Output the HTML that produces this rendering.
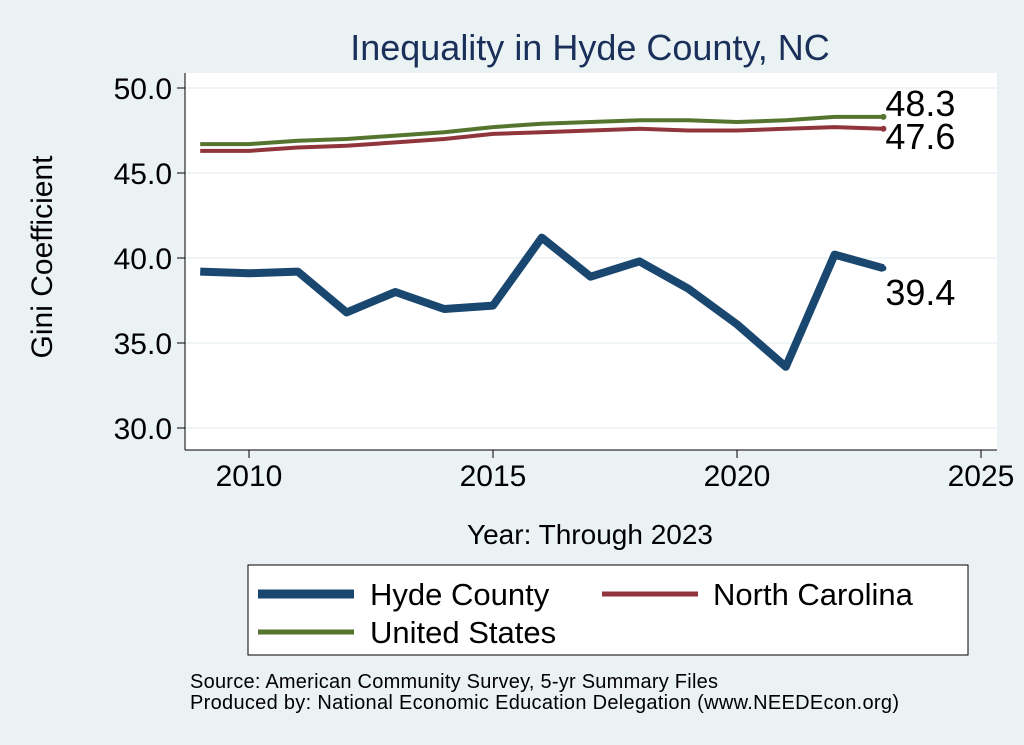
<!DOCTYPE html>
<html><head><meta charset="utf-8"><style>
body{margin:0;background:#eaf2f3;}
svg{display:block;font-family:"Liberation Sans",sans-serif;}
</style></head><body>
<svg width="1024" height="745">
<rect x="0" y="0" width="1024" height="745" fill="#eaf2f3"/>
<text x="590" y="60" font-size="36" fill="#1a2f5a" text-anchor="middle">Inequality in Hyde County, NC</text>
<rect x="185" y="73" width="812" height="377" fill="#ffffff"/>
<g id="grid"></g>
<g id="axes"></g>
<g id="series"></g>
<text x="52" y="257" font-size="30" fill="#000" text-anchor="middle" transform="rotate(-90 52 257)">Gini Coefficient</text>
<text x="590" y="544" font-size="28" fill="#000" text-anchor="middle">Year: Through 2023</text>
<g>
<rect x="248" y="565" width="720" height="90" fill="#fff" stroke="#000" stroke-width="1"/>
<line x1="258" y1="594" x2="354" y2="594" stroke="#1a476f" stroke-width="9"/>
<text x="370" y="605" font-size="31">Hyde County</text>
<line x1="602" y1="594" x2="698" y2="594" stroke="#90353b" stroke-width="5"/>
<text x="713" y="605" font-size="31">North Carolina</text>
<line x1="258" y1="632" x2="354" y2="632" stroke="#55752f" stroke-width="5"/>
<text x="370" y="643" font-size="31">United States</text>
</g>
<text x="190" y="688" font-size="20" textLength="528">Source: American Community Survey, 5-yr Summary Files</text>
<text x="190" y="709" font-size="20" textLength="709">Produced by: National Economic Education Delegation (www.NEEDEcon.org)</text>
</svg>
<script>
const years=[2009,2010,2011,2012,2013,2014,2015,2016,2017,2018,2019,2020,2021,2022,2023];
const hyde=[39.2,39.1,39.2,36.8,38.0,37.0,37.2,41.2,38.9,39.8,38.2,36.1,33.6,40.2,39.4];
const nc=[46.3,46.3,46.5,46.6,46.8,47.0,47.3,47.4,47.5,47.6,47.5,47.5,47.6,47.7,47.6];
const us=[46.7,46.7,46.9,47.0,47.2,47.4,47.7,47.9,48.0,48.1,48.1,48.0,48.1,48.3,48.3];
const yTicks=[30,35,40,45,50];
const xTicks=[2010,2015,2020,2025];
const NS="http://www.w3.org/2000/svg";
const X=v=>249+(v-2010)*48.8;
const Y=v=>428-(v-30)*17;
function mk(tag,attrs,parent){const e=document.createElementNS(NS,tag);for(const k in attrs)e.setAttribute(k,attrs[k]);document.getElementById(parent).appendChild(e);return e;}
yTicks.forEach(t=>{
 const g=mk('line',{x1:185,x2:997,y1:Y(t),y2:Y(t),stroke:'#eaf2f3','stroke-width':1.5},'grid');
 
 
 const tk=mk('line',{x1:177,x2:185,y1:Y(t),y2:Y(t),stroke:'#000'},'axes');
 
 
 const tx=mk('text',{x:172,y:Y(t)+11,'font-size':30,'text-anchor':'end'},'axes');
 tx.textContent=t.toFixed(1);
 
 
});
xTicks.forEach(t=>{
 const tk=mk('line',{x1:X(t),x2:X(t),y1:450,y2:458,stroke:'#000'},'axes');
 
 
 const tx=mk('text',{x:X(t),y:486,'font-size':30,'text-anchor':'middle'},'axes');
 tx.textContent=t;
 
 
});
const ya=mk('line',{x1:185,x2:185,y1:73,y2:450,stroke:'#000'},'axes');


const xa=mk('line',{x1:185,x2:997,y1:450,y2:450,stroke:'#000'},'axes');


function line(vals,color,w,name){
 const p=mk('polyline',{points:vals.map((v,i)=>X(years[i])+','+Y(v)).join(' '),fill:'none',stroke:color,'stroke-width':w,'stroke-linejoin':'round'},'series');
 
 
 const li=vals.length-1;
 const d=mk('circle',{cx:X(years[li]),cy:Y(vals[li]),r:3,fill:color},'series');
 
 
}
line(nc,'#90353b',4,'line-north-carolina');
line(us,'#55752f',4,'line-united-states');
line(hyde,'#1a476f',8,'line-hyde-county');
function lab(v,dy,name){
 const t=mk('text',{x:X(2023)+2,y:Y(v)+dy,'font-size':36},'series');
 t.textContent=v.toFixed(1);
 
 
}
lab(us[us.length-1],-1,'label-us-last');
lab(nc[nc.length-1],20,'label-nc-last');
lab(hyde[hyde.length-1],37,'label-hyde-last');
</script>
</body></html>
